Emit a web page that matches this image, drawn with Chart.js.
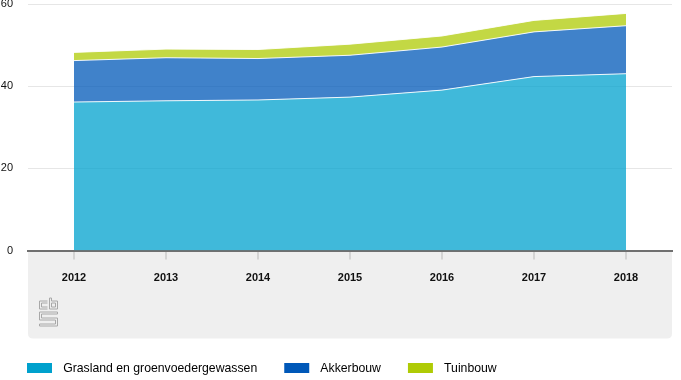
<!DOCTYPE html>
<html>
<head>
<meta charset="utf-8">
<script src="https://cdn.jsdelivr.net/npm/chart.js@4"></script>
<style>
html,body{margin:0;padding:0;background:#fff;overflow:hidden;}
#wrap{width:681px;height:380px;position:relative;}
</style>
</head>
<body>
<div id="wrap"><canvas id="c" width="681" height="380"></canvas></div>
<script>
const years = ['2012','2013','2014','2015','2016','2017','2018'];
const grasland = [36.2, 36.5, 36.7, 37.4, 39.1, 42.4, 43.1];
const akkerbouw = [10.1, 10.5, 10.1, 10.2, 10.5, 10.9, 11.7];
const tuinbouw = [2.0, 2.1, 2.2, 2.7, 2.7, 2.8, 3.0];
const seriesNames = ['Grasland en groenvoedergewassen', 'Akkerbouw', 'Tuinbouw'];
const solidColors = ['#00a1cd', '#0058b8', '#afcb05'];
const fillColors = ['rgba(0,161,205,0.75)', 'rgba(0,88,184,0.75)', 'rgba(175,203,5,0.75)'];
const yTicks = [0, 20, 40, 60];

const FONT = '"Liberation Sans", Arial, sans-serif';

// legend marker: 25x10 swatch with transparent margins inside a 36px wide slot
const MARK_W = 36, MARK_H = 10, MARK_OFF = 6, SWATCH_W = 25;
function makeMarker(color) {
  const c = document.createElement('canvas');
  c.width = MARK_W; c.height = MARK_H;
  const g = c.getContext('2d');
  g.fillStyle = color;
  g.fillRect(MARK_OFF, 0, SWATCH_W, MARK_H);
  return c;
}
const markers = solidColors.map(makeMarker);

function roundRectPath(ctx, x, y, w, h, r) {
  ctx.beginPath();
  ctx.moveTo(x, y);
  ctx.lineTo(x + w, y);
  ctx.lineTo(x + w, y + h - r);
  ctx.quadraticCurveTo(x + w, y + h, x + w - r, y + h);
  ctx.lineTo(x + r, y + h);
  ctx.quadraticCurveTo(x, y + h, x, y + h - r);
  ctx.closePath();
}

const bandPlugin = {
  id: 'band',
  beforeDraw(chart) {
    const ctx = chart.ctx;
    const a = chart.chartArea;
    ctx.save();
    ctx.fillStyle = '#efefef';
    roundRectPath(ctx, a.left, a.bottom, a.right - a.left, 88, 5);
    ctx.fill();
    // cbs logo
    ctx.strokeStyle = '#a8a8a8';
    ctx.lineWidth = 1;
    const lx = a.left + 11.5, ly = a.bottom + 47.5;
    ctx.beginPath();
    ctx.moveTo(lx + 8, ly + 3); ctx.lineTo(lx, ly + 3); ctx.lineTo(lx, ly + 11); ctx.lineTo(lx + 8, ly + 11);
    ctx.moveTo(lx + 8, ly + 5); ctx.lineTo(lx + 2, ly + 5); ctx.lineTo(lx + 2, ly + 9); ctx.lineTo(lx + 8, ly + 9);
    ctx.moveTo(lx + 10, ly); ctx.lineTo(lx + 10, ly + 11); ctx.lineTo(lx + 18, ly + 11); ctx.lineTo(lx + 18, ly + 3); ctx.lineTo(lx + 12, ly + 3); ctx.lineTo(lx + 12, ly);
    ctx.closePath();
    ctx.rect(lx + 12, ly + 5, 4, 4);
    ctx.moveTo(lx + 18, ly + 14); ctx.lineTo(lx, ly + 14); ctx.lineTo(lx, ly + 22); ctx.lineTo(lx + 16, ly + 22); ctx.lineTo(lx + 16, ly + 26); ctx.lineTo(lx, ly + 26); ctx.lineTo(lx, ly + 28); ctx.lineTo(lx + 18, ly + 28); ctx.lineTo(lx + 18, ly + 20); ctx.lineTo(lx + 2, ly + 20); ctx.lineTo(lx + 2, ly + 16); ctx.lineTo(lx + 18, ly + 16); ctx.closePath();
    ctx.stroke();
    ctx.restore();
  }
};

new Chart(document.getElementById('c'), {
  type: 'line',
  data: {
    labels: years,
    datasets: [
      { label: seriesNames[0], data: grasland, backgroundColor: fillColors[0], fill: 'origin' },
      { label: seriesNames[1], data: akkerbouw, backgroundColor: fillColors[1], fill: '-1' },
      { label: seriesNames[2], data: tuinbouw, backgroundColor: fillColors[2], fill: '-1' }
    ].map(d => Object.assign(d, { borderColor: 'rgba(255,255,255,0.9)', borderWidth: 1, pointRadius: 0, tension: 0 }))
  },
  options: {
    responsive: false,
    animation: false,
    layout: { padding: { top: 0, right: 9, left: 0, bottom: -4.5 } },
    plugins: {
      tooltip: { enabled: false },
      legend: {
        position: 'bottom',
        align: 'start',
        labels: {
          usePointStyle: true,
          pointStyleWidth: MARK_W,
          boxHeight: 10,
          padding: 21,
          color: '#1a1a2a',
          font: { family: FONT, size: 12.25 },
          generateLabels(chart) {
            return chart.data.datasets.map((d, i) => ({
              text: d.label, fillStyle: solidColors[i], strokeStyle: solidColors[i], lineWidth: 0,
              pointStyle: markers[i], hidden: false, datasetIndex: i
            }));
          }
        }
      }
    },
    scales: {
      x: {
        offset: true,
        grid: { drawOnChartArea: false, drawTicks: true, tickLength: 9, color: '#d4d4d4', lineWidth: 2 },
        border: { display: true, color: '#707070', width: 2 },
        ticks: { color: '#111', padding: 12, font: { family: FONT, size: 11, weight: 'bold' }, maxRotation: 0 },
        afterFit(s) { s.height = 90.75; }
      },
      y: {
        stacked: true,
        min: 0, max: 60,
        afterBuildTicks(s) { s.ticks = yTicks.map(v => ({ value: v })); },
        grid: { drawTicks: true, tickLength: 15, tickColor: 'rgba(0,0,0,0)', color: ctx => ctx.tick && ctx.tick.value === 0 ? 'rgba(0,0,0,0)' : '#e6e6e6', lineWidth: 1 },
        border: { display: false },
        ticks: { color: '#111', padding: 0, font: { family: FONT, size: 11, lineHeight: 0.8 } },
        afterFit(s) { s.width = 28; }
      }
    }
  },
  plugins: [bandPlugin]
});
</script>
</body>
</html>
